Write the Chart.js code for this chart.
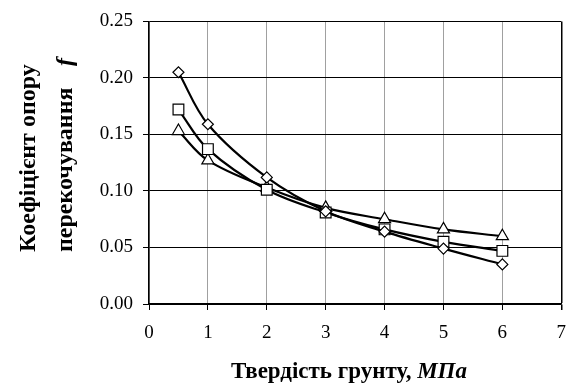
<!doctype html>
<html lang="uk">
  <head>
    <meta charset="utf-8">
    <script src="https://cdn.jsdelivr.net/npm/chart.js@4.4.1/dist/chart.umd.min.js"></script>
    <title>Коефіцієнт опору перекочування</title>
    <style>
      * { margin: 0; padding: 0; }
      body { background: white; }
      .chartBox { width: 578px; height: 383px; }
    </style>
  </head>
  <body>
    <div class="chartBox"><canvas id="myChart"></canvas></div>
    <script>
    // soil hardness, MPa
    const hardness = [0.5, 1, 2, 3, 4, 5, 6];
    // rolling resistance coefficient f
    const diamondVals  = [0.205, 0.159, 0.112, 0.082, 0.064, 0.049, 0.035];
    const squareVals   = [0.172, 0.137, 0.101, 0.081, 0.066, 0.055, 0.047];
    const triangleVals = [0.153, 0.127, 0.103, 0.085, 0.075, 0.066, 0.060];
    const xTicks = [0, 1, 2, 3, 4, 5, 6, 7];
    const yTicks = [0, 0.05, 0.10, 0.15, 0.20, 0.25];

    const FONT = "'Liberation Serif', 'Times New Roman', serif";

    function pts(vals) {
      return hardness.map((x, i) => ({ x: x, y: vals[i] }));
    }
    function series(vals, style, radius) {
      return {
        data: pts(vals),
        borderColor: '#000',
        borderWidth: 2.2,
        tension: 0.35,
        pointStyle: style,
        pointRadius: radius,
        pointBackgroundColor: '#fff',
        pointBorderColor: '#000',
        pointBorderWidth: 1.2
      };
    }

    // axis titles with italic parts, drawn by hand
    const titles = {
      id: 'titles',
      afterDraw(chart) {
        const c = chart.ctx;
        const bold = 'bold 23px ' + FONT;
        const boldIt = 'italic bold 23px ' + FONT;
        c.save();
        c.fillStyle = '#000';
        c.textBaseline = 'alphabetic';
        c.textAlign = 'left';
        // x title
        const a = 'Твердість грунту, ', b = 'МПа';
        c.font = bold;
        const wa = c.measureText(a).width;
        c.font = boldIt;
        const wb = c.measureText(b).width;
        const x0 = 349 - (wa + wb) / 2;
        c.font = bold;
        c.fillText(a, x0, 378);
        c.font = boldIt;
        c.fillText(b, x0 + wa, 378);
        // y title, two rotated lines
        const yBold = 'bold 24px ' + FONT;
        c.save();
        c.translate(35, 252);
        c.rotate(-Math.PI / 2);
        c.font = yBold;
        c.fillText('Коефіцієнт опору', 0, 0);
        c.restore();
        c.save();
        c.translate(72, 252);
        c.rotate(-Math.PI / 2);
        c.font = yBold;
        c.fillText('перекочування', 0, 0);
        c.font = 'italic bold 24px ' + FONT;
        c.fillText('f', 186, 0);
        c.restore();
        c.restore();
      }
    };

    new Chart(document.getElementById('myChart'), {
      type: 'line',
      data: {
        datasets: [
          series(diamondVals, 'rectRot', 5.5),
          series(squareVals, 'rect', 7.6),
          series(triangleVals, 'triangle', 7)
        ]
      },
      options: {
        responsive: true,
        maintainAspectRatio: false,
        animation: false,
        layout: { padding: { top: 17, right: 7, left: 0, bottom: 0 } },
        plugins: {
          legend: { display: false },
          tooltip: { enabled: false }
        },
        scales: {
          x: {
            type: 'linear',
            min: 0, max: 7,
            afterBuildTicks: s => { s.ticks = xTicks.map(v => ({ value: v })); },
            afterFit: s => { s.height = 79; },
            grid: {
              color: ctx => (ctx.tick && ctx.tick.value === 7 ? '#000' : '#a0a0a0'),
              lineWidth: ctx => (ctx.tick && ctx.tick.value === 7 ? 1.5 : 1),
              tickColor: '#000',
              tickLength: 6
            },
            border: { color: '#000', width: 1.5 },
            ticks: {
              color: '#000',
              padding: 12,
              maxRotation: 0,
              font: { family: FONT, size: 19 }
            }
          },
          y: {
            min: 0, max: 0.25,
            afterBuildTicks: s => { s.ticks = yTicks.map(v => ({ value: v })); },
            afterFit: s => { s.width = 149; },
            grid: {
              color: '#000',
              lineWidth: 1,
              tickColor: '#000',
              tickLength: 6
            },
            border: { color: '#000', width: 1.5 },
            ticks: {
              color: '#000',
              padding: 10,
              font: { family: FONT, size: 19 },
              callback: v => v.toFixed(2)
            }
          }
        }
      },
      plugins: [titles]
    });
    </script>
  </body>
</html>
